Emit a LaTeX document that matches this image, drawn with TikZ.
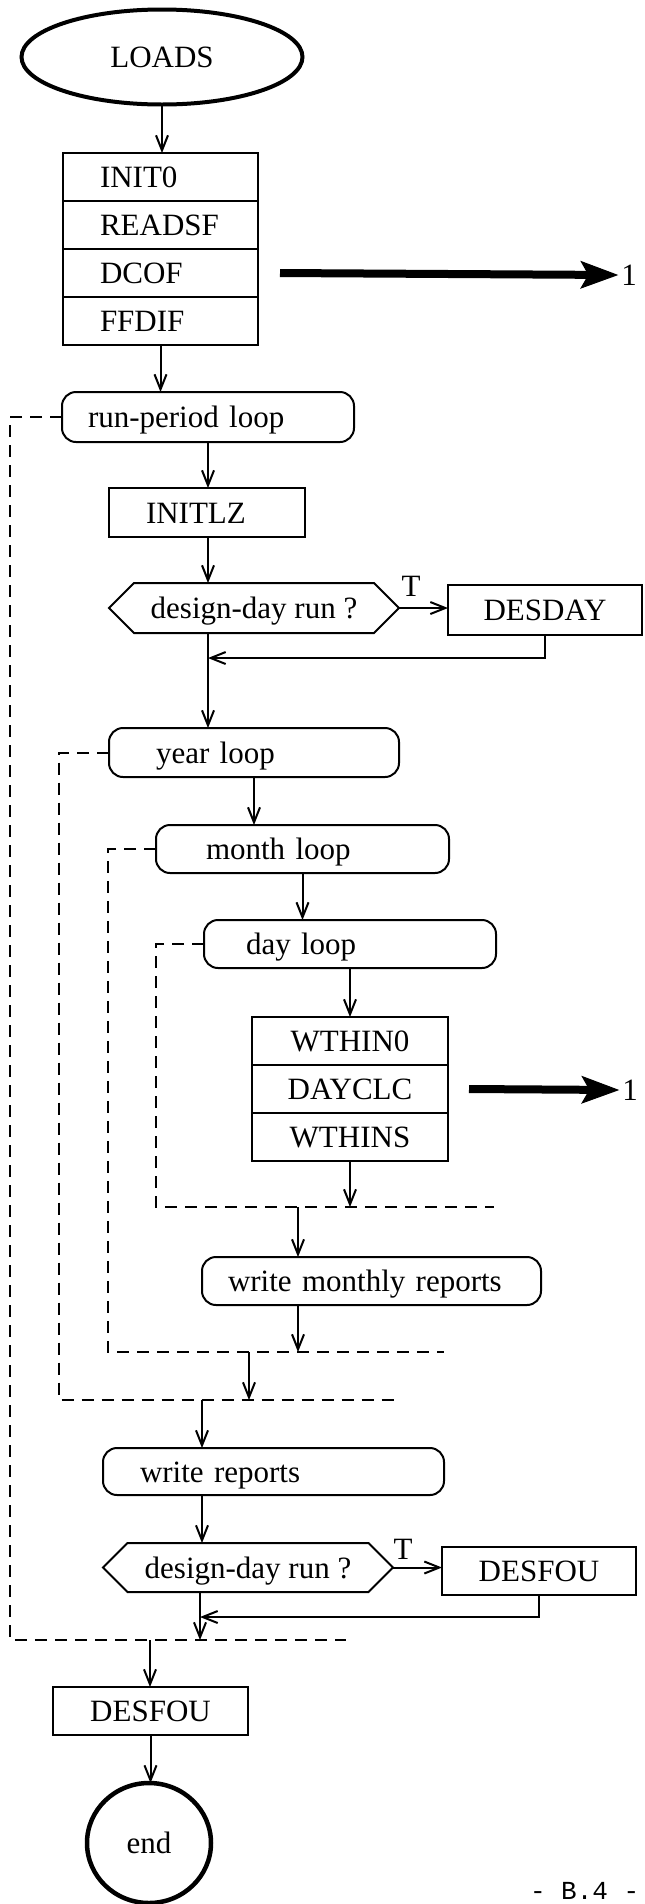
\documentclass[tikz,border=0pt]{standalone}
\usepackage{fontspec}
\setmainfont{Liberation Serif}
\newfontfamily\pagemono{Liberation Mono}
\usetikzlibrary{arrows.meta,shapes.geometric,shapes.symbols}
\begin{document}
\begin{tikzpicture}[x=1pt,y=-1pt,
  font=\fontsize{31}{36}\selectfont,
  every node/.style={inner sep=0pt, outer sep=0pt},
  box/.style={draw, line width=2pt, minimum height=48pt, text height=21pt, text depth=0pt},
  rbox/.style={box, rounded corners=14pt},
  stk/.style={box, minimum width=195pt, text width=121pt, inner xsep=37pt, align=left},
  stkc/.style={box, minimum width=196pt, align=center},
  hexa/.style={draw, line width=2pt, signal, signal to=west and east, signal pointer angle=90,
     minimum width=290pt, minimum height=50pt, text height=21pt, text depth=0pt},
  arr/.style={line width=2pt, -{Straight Barb[length=15pt,width=12pt]}},
  fat/.style={line width=8pt, -{Stealth[length=38pt 0 0,width=28pt 0 0,inset=8pt 0 0,line width=1pt 0 0]}},
  dsh/.style={line width=2pt, dash pattern=on 12pt off 8pt},
]
\useasboundingbox (0,0) rectangle (645,1904);
\fill[white] (0,0) rectangle (645,1904);

% top part
\node[draw, ellipse, line width=4pt, minimum width=281pt, minimum height=95pt, text height=21pt, text depth=0pt] (loads) at (162,57) {LOADS};
\node[stk] (init0) at (160.5,177) {INIT0};
\node[stk] (readsf) at (160.5,225) {READSF};
\node[stk] (dcof) at (160.5,273) {DCOF};
\node[stk] (ffdif) at (160.5,321) {FFDIF};
\node[text height=21pt, text depth=0pt] (one1) at (629,275) {1};
\draw[arr] (loads.south) -- (loads.south |- init0.north);
\draw[fat] ([xshift=22pt]dcof.east) -- ([xshift=-3pt]one1.west);

\node[rbox, minimum width=292pt, minimum height=50pt, text width=240pt, inner xsep=26pt, align=left] (rploop) at (208,417) {run-period loop};
\draw[arr] (ffdif.south) -- (ffdif.south |- rploop.north);

\node[box, minimum width=196pt, minimum height=49pt, text width=122pt, inner xsep=37pt, align=left] (initlz) at (207,512.5) {INITLZ};
\node[hexa] (hex1) at (254,608) {design-day run ?};
\node[text height=21pt, text depth=0pt] (t1) at (411,586) {T};
\node[box, minimum width=194pt, minimum height=50pt] (desday) at (545,610) {DESDAY};
\coordinate (j1) at (208,658);

\draw[arr] (rploop.south) -- (rploop.south |- initlz.north);
\draw[arr] (rploop.south |- initlz.south) -- (rploop.south |- hex1.north);
\draw[arr] (hex1.east) -- (hex1.east -| desday.west);
\draw[arr] (desday.south) |- (j1);

\node[rbox, minimum width=290pt, minimum height=49pt, text width=196pt, inner xsep=47pt, align=left] (yearloop) at (254,752.5) {year loop};
\draw[arr] (rploop.south |- hex1.south) -- (rploop.south |- yearloop.north);

\node[rbox, minimum width=293pt, minimum height=48pt, text width=193pt, inner xsep=50pt, align=left] (monthloop) at (302.5,849) {month loop};
\draw[arr] (yearloop.south) -- (yearloop.south |- monthloop.north);

\node[rbox, minimum width=292pt, minimum height=48pt, text width=208pt, inner xsep=42pt, align=left] (dayloop) at (350,944) {day loop};
\draw[arr] (monthloop.south) -- (monthloop.south |- dayloop.north);

\node[stkc] (wthin0) at (350,1041) {WTHIN0};
\node[stkc] (dayclc) at (350,1089) {DAYCLC};
\node[stkc] (wthins) at (350,1137) {WTHINS};
\draw[arr] (dayloop.south) -- (wthin0.north);
\node[text height=21pt, text depth=0pt] (one2) at (630,1090) {1};
\draw[fat] ([xshift=21pt]dayclc.east) -- ([xshift=-3pt]one2.west);

% loop close lines
\coordinate (o1) at (10,417);
\coordinate (o2) at (10,1640);
\coordinate (o3) at (346,1640);
\coordinate (y1) at (59,752.5);
\coordinate (y2) at (59,1400);
\coordinate (y3) at (395,1400);
\coordinate (m1) at (108,849);
\coordinate (m2) at (108,1352);
\coordinate (m3) at (444,1352);
\coordinate (d1) at (156,944);
\coordinate (d2) at (156,1207);
\coordinate (d3) at (494,1207);
\draw[dsh] (rploop.west) -- (o1) -- (o2) -- (o3);
\draw[dsh] (yearloop.west) -- (y1) -- (y2) -- (y3);
\draw[dsh] (monthloop.west) -- (m1) -- (m2) -- (m3);
\draw[dsh] (dayloop.west) -- (d1) -- (d2) -- (d3);

\draw[arr] (wthins.south) -- (wthins.south |- d3);

\node[rbox, minimum width=339pt, minimum height=48pt, text width=287pt, inner xsep=26pt, align=left] (wmr) at (371.5,1281) {write monthly reports};
\coordinate (dj) at (298,1207);
\draw[arr] (dj) -- (dj |- wmr.north);
\draw[arr] (dj |- wmr.south) -- (dj |- m3);

\coordinate (mj) at (249,1352);
\draw[arr] (mj) -- (mj |- y3);

\node[rbox, minimum width=341pt, minimum height=47pt, text width=267pt, inner xsep=37pt, align=left] (wr) at (273.5,1471.5) {write reports};
\coordinate (yj) at (202,1400);
\draw[arr] (yj) -- (yj |- wr.north);

\node[hexa, minimum height=49pt] (hex2) at (248,1567.5) {design-day run ?};
\draw[arr] (yj |- wr.south) -- (yj |- hex2.north);
\node[text height=21pt, text depth=0pt] (t2) at (403,1549) {T};
\node[box, minimum width=194pt, minimum height=48pt] (desfou1) at (539,1571) {DESFOU};
\draw[arr] (hex2.east) -- (hex2.east -| desfou1.west);
\coordinate (j2) at (200,1617);
\draw[arr] (desfou1.south) |- (j2);
\draw[arr] (j2 |- hex2.south) -- (j2 |- o3);

\node[box, minimum width=195pt, minimum height=48pt] (desfou2) at (150.5,1711) {DESFOU};
\coordinate (oj) at (150,1640);
\draw[arr] (oj) -- (oj |- desfou2.north);

\node[draw, ellipse, line width=4.5pt, minimum width=124pt, minimum height=120pt, text height=21pt, text depth=0pt] (endn) at (149,1843) {end};
\draw[arr] (desfou2.south) -- (desfou2.south |- endn.north);

\node[font=\pagemono\fontsize{26}{30}\selectfont, anchor=base west] (pg) at (530,1899) {- B.4 -};
\end{tikzpicture}
\end{document}
